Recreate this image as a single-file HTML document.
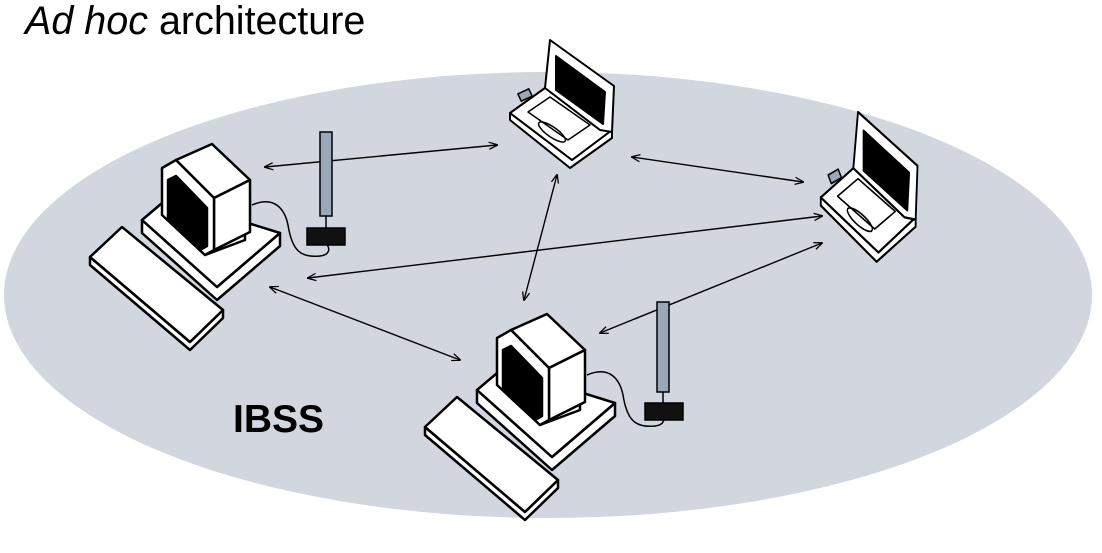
<!DOCTYPE html>
<html><head><meta charset="utf-8"><style>
html,body{margin:0;padding:0;background:#fff;width:1102px;height:553px;overflow:hidden}
</style></head><body>
<svg width="1102" height="553" viewBox="0 0 1102 553" xmlns="http://www.w3.org/2000/svg">
<defs>
<marker id="a" viewBox="0 0 10 10" refX="9" refY="5" markerWidth="9" markerHeight="9" orient="auto-start-reverse" markerUnits="userSpaceOnUse">
<path d="M0,1 L10,5 L0,9" fill="none" stroke="#000" stroke-width="1.4"/>
</marker>
<g id="desk" stroke="#000" stroke-width="2.5" stroke-linejoin="round" fill="#fff">
  <polygon points="90,257 90,265 190,350 223,318 223,310 190,342"/>
  <polygon points="90,257 122,227 223,310 190,342"/>
  <polygon points="142,220 142,233 217,300 280,246 280,233 217,287"/>
  <polygon points="142,220 168,198 280,233 217,287"/>
  <polygon points="175,225 205,255 245,240 245,225" fill="#fff"/>
  <polygon points="176,160 212,144 250,180 214,198"/>
  <polygon points="214,198 250,180 250,232 214,250"/>
  <polygon points="162,168 176,160 214,198 214,250 205,255 162,215"/>
  <polygon points="168,180 176,176 207,208 207,246 200,250 168,218" fill="#000"/>
  <path d="M252,205 C275,195 285,210 288,225 C292,250 300,258 320,256 C330,255 330,248 327,245" fill="none" stroke-width="1.5"/>
</g>
<g id="lap" stroke="#000" stroke-width="2" stroke-linejoin="round" fill="#fff">
  <rect x="519" y="91" width="12" height="8" fill="#9aa7b6" stroke-width="1.5" transform="rotate(-25 525 95)"/>
  <polygon points="510,113 510,120 570,168 612,138 612,130 572,160"/>
  <polygon points="510,113 545,88 612,130 572,160"/>
  <polygon points="545,88 550,40 614,86 612,132 600,130"/>
  <polygon points="556,56 605,92 603,124 556,90" fill="#000"/>
  <polygon points="528,112 550,97 590,125 568,140" fill="none" stroke-width="1.5"/>
  <ellipse cx="552" cy="132" rx="16" ry="5" transform="rotate(35 552 132)" fill="none" stroke-width="1.5"/>
</g>
</defs>
<ellipse cx="548" cy="295" rx="544" ry="223" fill="#d1d6df"/>
<text x="25" y="34" font-family="Liberation Sans, sans-serif" font-size="39.5"><tspan font-style="italic">Ad hoc</tspan> architecture</text>
<text x="233" y="432" font-family="Liberation Sans, sans-serif" font-size="39" font-weight="bold">IBSS</text>
<g stroke="#000" stroke-width="1.4" marker-start="url(#a)" marker-end="url(#a)">
<line x1="265" y1="167" x2="497" y2="145"/>
<line x1="632" y1="157" x2="803" y2="182"/>
<line x1="557" y1="175" x2="524" y2="300"/>
<line x1="308" y1="278" x2="822" y2="216"/>
<line x1="270" y1="287" x2="460" y2="360"/>
<line x1="600" y1="333" x2="822" y2="243"/>
</g>
<use href="#desk"/>
<use href="#desk" transform="translate(335,170)"/>
<use href="#lap"/>
<use href="#lap" transform="translate(858,112) scale(0.93,1.17) translate(-550,-40)"/>
<g stroke="#000" stroke-width="1.5">
<rect x="320" y="132" width="12" height="84" fill="#9aa7b6"/>
<line x1="326" y1="216" x2="326" y2="229"/>
<rect x="307" y="228" width="38" height="17" fill="#111"/>
<rect x="657" y="302" width="12" height="90" fill="#9aa7b6"/>
<line x1="663" y1="392" x2="663" y2="404"/>
<rect x="645" y="403" width="38" height="17" fill="#111"/>
</g>
</svg>
</body></html>
